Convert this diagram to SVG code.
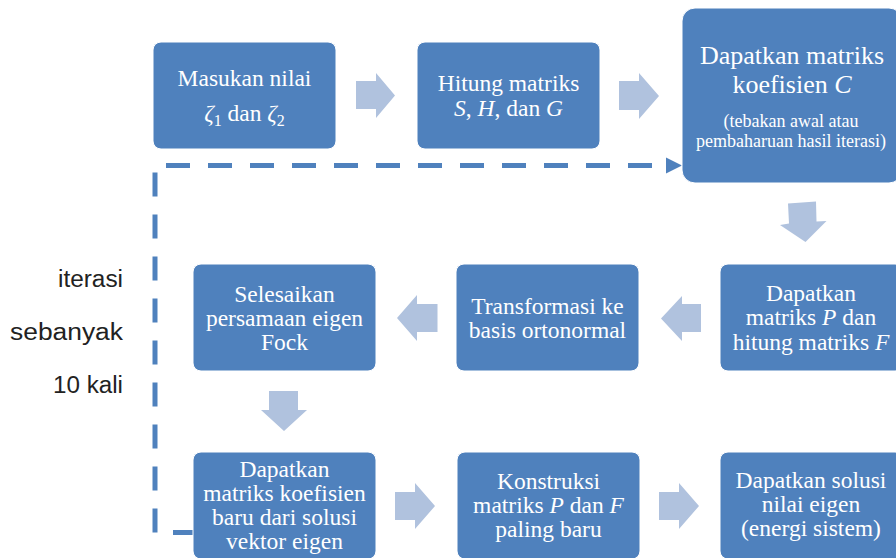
<svg xmlns="http://www.w3.org/2000/svg" width="896" height="558" viewBox="0 0 896 558">
<style>
.box{fill:#4F81BD;stroke:#FFFFFF;stroke-width:1}
.t{font-family:"Liberation Serif","Times New Roman",serif;fill:#FFFFFF;text-anchor:middle;font-size:23.5px}
.big{font-size:26px}
.small{font-size:18px}
.m{font-style:italic}
.sub{font-size:16px}
.arr{fill:#B0C2DE}
.dash{fill:none;stroke:#4F81BD;stroke-width:5;stroke-dasharray:24 18}
.lbl{font-family:"Liberation Sans",Arial,sans-serif;fill:#222222;font-size:23px;text-anchor:end}
</style>
<defs>
<marker id="ah" markerUnits="userSpaceOnUse" markerWidth="18" markerHeight="18" refX="0" refY="8" orient="auto" viewBox="0 0 18 16">
<polygon points="0,0 16,8 0,16" fill="#4F81BD"/>
</marker>
</defs>
<rect width="896" height="558" fill="#FFFFFF"/>

<g id="connectors">
<path class="dash" d="M197,532.5 H155 V165.5 H666" marker-end="url(#ah)"/>
<polygon class="arr" points="356,81 376,81 376,73 395,95.5 376,118 376,109 356,109"/>
<polygon class="arr" points="619,81 639,81 639,73 659,96 639,119 639,110 619,110"/>
<polygon class="arr" points="788,203.5 816,201.5 816.5,221.5 826.5,221 805.5,242 780,225 789,223.5"/>
<polygon class="arr" points="701,304 682,304 682,296 661,318.5 682,341 682,332 701,332"/>
<polygon class="arr" points="437.5,304 417,304 417,295 397,318 417,341 417,332 437.5,332"/>
<polygon class="arr" points="269,391 298,391 298,410 307,410 284,431 261,410 269,410"/>
<polygon class="arr" points="395,492 415,492 415,483 435,506 415,529 415,520 395,520"/>
<polygon class="arr" points="659,492 679,492 679,483 699,506 679,529 679,520 659,520"/>
</g>

<g id="loop-label">
<text class="lbl" x="123" y="287" textLength="65" lengthAdjust="spacingAndGlyphs">iterasi</text>
<text class="lbl" x="123" y="340" textLength="113" lengthAdjust="spacingAndGlyphs">sebanyak</text>
<text class="lbl" x="123" y="393" textLength="70" lengthAdjust="spacingAndGlyphs">10 kali</text>
</g>

<g id="n1">
<rect class="box" x="153" y="42" width="183" height="107" rx="8"/>
<text class="t" x="244.5" y="86">Masukan nilai</text>
<text class="t" x="244.5" y="121"><tspan class="m">ζ</tspan><tspan class="sub" dy="5">1</tspan><tspan dy="-5"> dan </tspan><tspan class="m">ζ</tspan><tspan class="sub" dy="5">2</tspan></text>
</g>

<g id="n2">
<rect class="box" x="417" y="42" width="183" height="107" rx="8"/>
<text class="t" x="508.5" y="91">Hitung matriks</text>
<text class="t" x="508.5" y="116"><tspan class="m">S</tspan>, <tspan class="m">H</tspan>, dan <tspan class="m">G</tspan></text>
</g>

<g id="n3">
<rect class="box" x="682" y="8" width="220" height="175" rx="13"/>
<text class="t big" x="792" y="64">Dapatkan matriks</text>
<text class="t big" x="792" y="93">koefisien <tspan class="m">C</tspan></text>
<text class="t small" x="791" y="127">(tebakan awal atau</text>
<text class="t small" x="791" y="147">pembaharuan hasil iterasi)</text>
</g>

<g id="n4">
<rect class="box" x="720" y="264" width="183" height="107" rx="8"/>
<text class="t" x="811" y="300.5">Dapatkan</text>
<text class="t" x="811" y="325">matriks <tspan class="m">P</tspan> dan</text>
<text class="t" x="811" y="349.5">hitung matriks <tspan class="m">F</tspan></text>
</g>

<g id="n5">
<rect class="box" x="456" y="264" width="183" height="107" rx="8"/>
<text class="t" x="547.5" y="313.5">Transformasi ke</text>
<text class="t" x="547.5" y="337.5">basis ortonormal</text>
</g>

<g id="n6">
<rect class="box" x="193" y="264" width="183" height="107" rx="8"/>
<text class="t" x="284.5" y="301.5">Selesaikan</text>
<text class="t" x="284.5" y="325.5">persamaan eigen</text>
<text class="t" x="284.5" y="349.5">Fock</text>
</g>

<g id="n7">
<rect class="box" x="193" y="452" width="183" height="107" rx="8"/>
<text class="t" x="284.5" y="477">Dapatkan</text>
<text class="t" x="284.5" y="501">matriks koefisien</text>
<text class="t" x="284.5" y="525">baru dari solusi</text>
<text class="t" x="284.5" y="549">vektor eigen</text>
</g>

<g id="n8">
<rect class="box" x="457" y="452" width="183" height="107" rx="8"/>
<text class="t" x="548.5" y="489">Konstruksi</text>
<text class="t" x="548.5" y="513">matriks <tspan class="m">P</tspan> dan <tspan class="m">F</tspan></text>
<text class="t" x="548.5" y="537">paling baru</text>
</g>

<g id="n9">
<rect class="box" x="720" y="452" width="183" height="107" rx="8"/>
<text class="t" x="811" y="488">Dapatkan solusi</text>
<text class="t" x="811" y="512">nilai eigen</text>
<text class="t" x="811" y="536">(energi sistem)</text>
</g>
</svg>
